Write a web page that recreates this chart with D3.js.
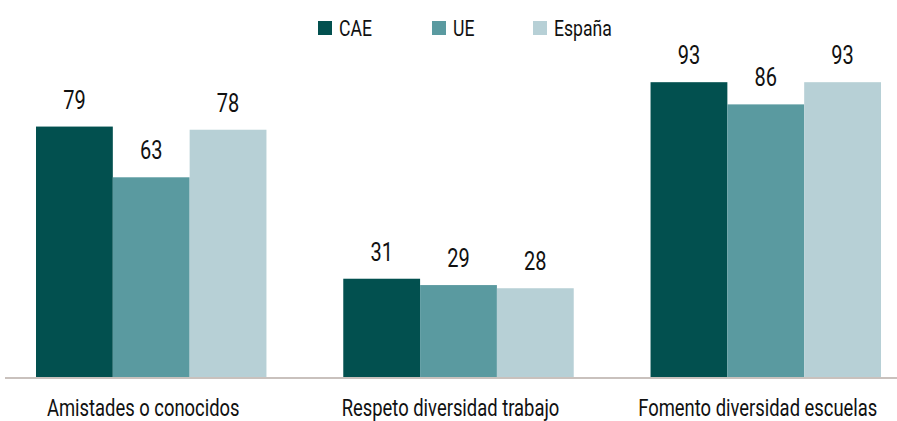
<!DOCTYPE html>
<html>
<head>
<meta charset="utf-8">
<script src="https://cdn.jsdelivr.net/npm/d3@7"></script>
<style>
  body { margin: 0; background: #fff; }
  svg text { font-family: Roboto, "DejaVu Sans", sans-serif; fill: #111; }
</style>
</head>
<body>
<svg width="897" height="421"></svg>
<script>
'use strict';

let categories = ["Amistades o conocidos", "Respeto diversidad trabajo", "Fomento diversidad escuelas"],
    seriesNames = ["CAE", "UE", "España"],
    caeValues = [79, 31, 93],
    ueValues = [63, 29, 86],
    espanaValues = [78, 28, 93],
    colors = ["#02504f", "#5a9aa0", "#b7d0d6"];

// the reference uses a condensed face, squeeze Roboto to fake it
let SQUEEZE = 0.8;

let svg = d3.select("svg");
let series = [caeValues, ueValues, espanaValues];

let x = d3.scaleBand()
    .domain(categories)
    .range([36, 881])
    .paddingInner(0.25)
    .paddingOuter(0);

let xInner = d3.scaleBand()
    .domain(seriesNames)
    .range([0, x.bandwidth()]);

let y = d3.scaleLinear()
    .domain([0, 100])
    .range([377, 60]);

function condense(sel) {
    sel.each(function() {
        let len = this.getComputedTextLength();
        d3.select(this)
            .attr("textLength", len * SQUEEZE)
            .attr("lengthAdjust", "spacingAndGlyphs");
    });
}

// bars
let groups = svg.append("g")
    .selectAll("g")
    .data(categories)
    .enter().append("g")
    .attr("transform", function(d) { return "translate(" + x(d) + ",0)"; });

groups.selectAll("rect")
    .data(function(d, i) {
        return seriesNames.map(function(s, j) { return {name: s, value: series[j][i], idx: j}; });
    })
    .enter().append("rect")
    .attr("x", function(d) { return xInner(d.name); })
    .attr("y", function(d) { return y(d.value); })
    .attr("width", xInner.bandwidth())
    .attr("height", function(d) { return y(0) - y(d.value); })
    .attr("fill", function(d) { return colors[d.idx]; });

groups.selectAll("text.val")
    .data(function(d, i) {
        return seriesNames.map(function(s, j) { return {name: s, value: series[j][i]}; });
    })
    .enter().append("text")
    .attr("class", "val")
    .attr("x", function(d) { return xInner(d.name) + xInner.bandwidth() / 2; })
    .attr("y", function(d) { return y(d.value) - 18; })
    .attr("text-anchor", "middle")
    .style("font-size", "25px")
    .text(function(d) { return d.value; })
    .call(condense);

// axis line
svg.append("line")
    .attr("x1", 5).attr("x2", 897)
    .attr("y1", y(0) + 1).attr("y2", y(0) + 1)
    .style("stroke", "#c9c1bd")
    .style("stroke-width", 2);

// category labels
svg.append("g")
    .selectAll("text")
    .data(categories)
    .enter().append("text")
    .attr("x", function(d) { return x(d) + x.bandwidth() / 2 - 8; })
    .attr("y", 416)
    .attr("text-anchor", "middle")
    .style("font-size", "23px")
    .text(function(d) { return d; })
    .call(condense);

// legend
let legendX = [318, 432, 533];
let legend = svg.append("g")
    .selectAll("g")
    .data(seriesNames)
    .enter().append("g")
    .attr("transform", function(d, i) { return "translate(" + legendX[i] + ",21)"; });

legend.append("rect")
    .attr("width", 14).attr("height", 14)
    .attr("fill", function(d, i) { return colors[i]; });

legend.append("text")
    .attr("x", 21)
    .attr("y", 15)
    .style("font-size", "22px")
    .text(function(d) { return d; })
    .call(condense);
</script>
</body>
</html>
